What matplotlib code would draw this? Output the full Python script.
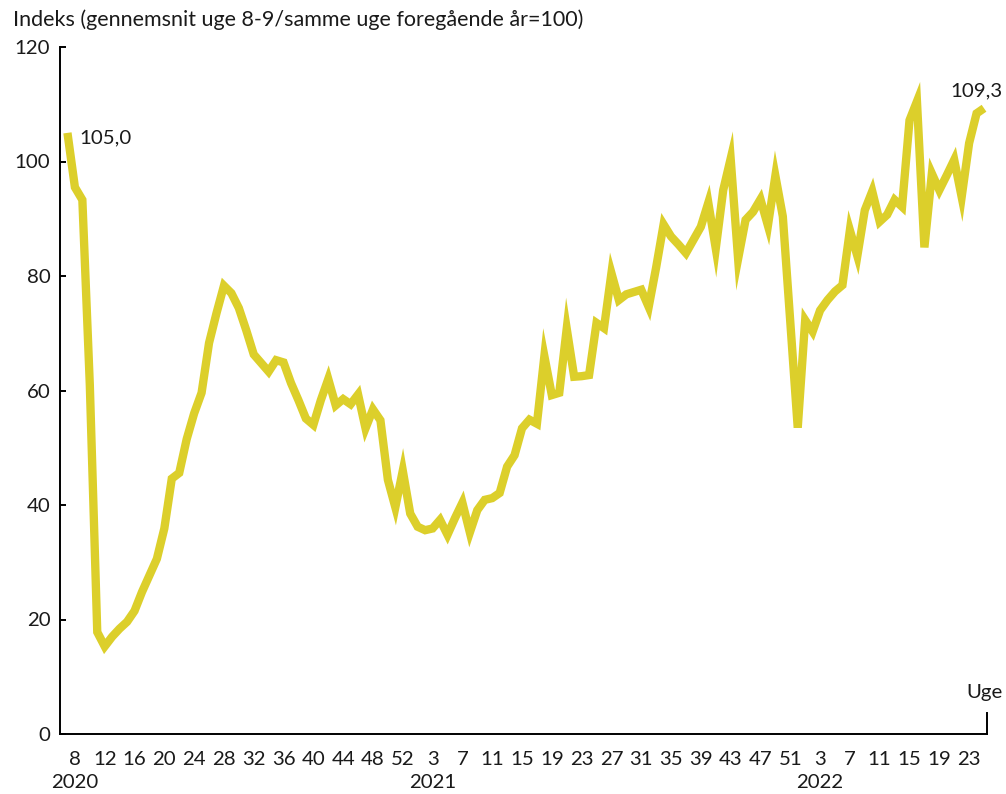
import matplotlib
matplotlib.use("Agg")
import matplotlib.pyplot as plt
import matplotlib.transforms as mtransforms

# ---------------- data ----------------
weeks_2020 = list(range(7, 54))
weeks_2021 = list(range(1, 53))
weeks_2022 = list(range(1, 26))

values_2020 = [105.0, 95.5, 93.3, 61.0, 17.8, 15.3, 17.0, 18.4, 19.6, 21.5,
               24.8, 27.7, 30.6, 35.9, 44.6, 45.6, 51.5, 56.0, 59.6, 68.3,
               73.5, 78.3, 77.0, 74.4, 70.5, 66.3, 64.8, 63.3, 65.3, 64.9,
               61.3, 58.3, 55.1, 54.0, 58.3, 62.0, 57.4, 58.5, 57.6, 59.3,
               53.4, 56.7, 54.8, 44.4, 39.6, 46.0, 38.5]
values_2021 = [36.2, 35.6, 35.9, 37.4, 34.8, 37.7, 40.4, 35.2, 39.1, 40.9,
               41.2, 42.1, 46.7, 48.7, 53.4, 54.9, 54.2, 66.0, 59.2, 59.6,
               70.8, 62.4, 62.5, 62.7, 71.8, 70.9, 80.5, 75.8, 76.8, 77.2,
               77.6, 74.6, 81.5, 89.0, 86.9, 85.5, 84.0, 86.3, 88.6, 92.8,
               84.8, 95.0, 100.5, 83.0, 89.8, 91.2, 93.4, 88.8, 97.5, 90.4,
               72.0, 53.5]
values_2022 = [72.3, 70.3, 74.0, 75.8, 77.3, 78.4, 88.0, 83.5, 91.5, 94.8,
               89.5, 90.7, 93.3, 92.1, 107.2, 110.5, 85.0, 97.9, 95.0, 97.6,
               100.3, 93.8, 103.2, 108.4, 109.3]

tick_weeks_2020 = [8, 12, 16, 20, 24, 28, 32, 36, 40, 44, 48, 52]
tick_weeks_2021 = [3, 7, 11, 15, 19, 23, 27, 31, 35, 39, 43, 47, 51]
tick_weeks_2022 = [3, 7, 11, 15, 19, 23]
year_label_weeks = {2020: 8, 2021: 3, 2022: 3}

y_ticks = [0, 20, 40, 60, 80, 100, 120]
first_label = "105,0"
last_label = "109,3"
y_title = "Indeks (gennemsnit uge 8-9/samme uge foregående år=100)"
x_title = "Uge"

# ---------------- build series ----------------
periods = ([(2020, w) for w in weeks_2020] + [(2021, w) for w in weeks_2021]
           + [(2022, w) for w in weeks_2022])
values = values_2020 + values_2021 + values_2022
x = list(range(len(values)))
pos = {p: i for i, p in enumerate(periods)}

tick_pos, tick_lab = [], []
for yr, tw in ((2020, tick_weeks_2020), (2021, tick_weeks_2021), (2022, tick_weeks_2022)):
    for w in tw:
        tick_pos.append(pos[(yr, w)])
        tick_lab.append(str(w))

# ---------------- style ----------------
FONT = ["Lato", "DejaVu Sans"]
plt.rcParams["font.family"] = FONT
LINE_COLOR = "#DCCF2B"
TEXT_COLOR = "#1a1a1a"
W, H = 1006, 794

fig = plt.figure(figsize=(W / 100, H / 100), dpi=100)
ax = fig.add_axes([60 / W, 60 / H, 927 / W, 687 / H])

ax.plot(x, values, color=LINE_COLOR, lw=6.0, solid_joinstyle="miter",
        solid_capstyle="butt", zorder=3, clip_on=False)

ax.set_xlim(-1, len(values) - 1 + 0.4)
ax.set_ylim(0, 120)

ax.spines["top"].set_visible(False)
for s in ("left", "bottom", "right"):
    ax.spines[s].set_linewidth(1.4)
    ax.spines[s].set_color("black")
ax.spines["right"].set_bounds(0, 3.7)

# title: fit to reference width
title = fig.text(13 / W, 1 - 20 / H, y_title, ha="left", va="center",
                 fontsize=14, color=TEXT_COLOR)
fig.canvas.draw()
r = fig.canvas.get_renderer()
wpx = title.get_window_extent(r).width
fs = 14 * 572 / wpx
title.set_fontsize(fs)

tfs = fs * 0.95
ax.set_yticks(y_ticks)
ax.set_yticklabels([str(v) for v in y_ticks])
ax.tick_params(axis="y", direction="in", length=4.5, width=1.4, pad=7,
               labelsize=tfs, colors="black")
ax.tick_params(axis="y", labelcolor=TEXT_COLOR)

ax.set_xticks(tick_pos)
ax.set_xticklabels(tick_lab)
ax.tick_params(axis="x", length=0, pad=12, labelsize=tfs, labelcolor=TEXT_COLOR)

blend = mtransforms.blended_transform_factory(ax.transData, ax.transAxes)
for yr, wk in year_label_weeks.items():
    ax.annotate(str(yr), xy=(pos[(yr, wk)], 0), xycoords=blend,
                xytext=(0, -49 / 1.389), textcoords="offset points",
                ha="center", va="center", fontsize=tfs, color=TEXT_COLOR,
                annotation_clip=False)

ax.annotate(first_label, xy=(x[0], values[0]), xytext=(8.5, -3.5),
            textcoords="offset points", ha="left", va="center",
            fontsize=tfs, color=TEXT_COLOR)
ax.annotate(last_label, xy=(x[-1], values[-1]), xytext=(13, 12.2),
            textcoords="offset points", ha="right", va="center",
            fontsize=tfs, color=TEXT_COLOR, annotation_clip=False)
ax.annotate(x_title, xy=(1, 0), xycoords="axes fraction", xytext=(11.5, 30),
            textcoords="offset points", ha="right", va="center",
            fontsize=tfs, color=TEXT_COLOR, annotation_clip=False)

fig.savefig("out.png", dpi=100)
